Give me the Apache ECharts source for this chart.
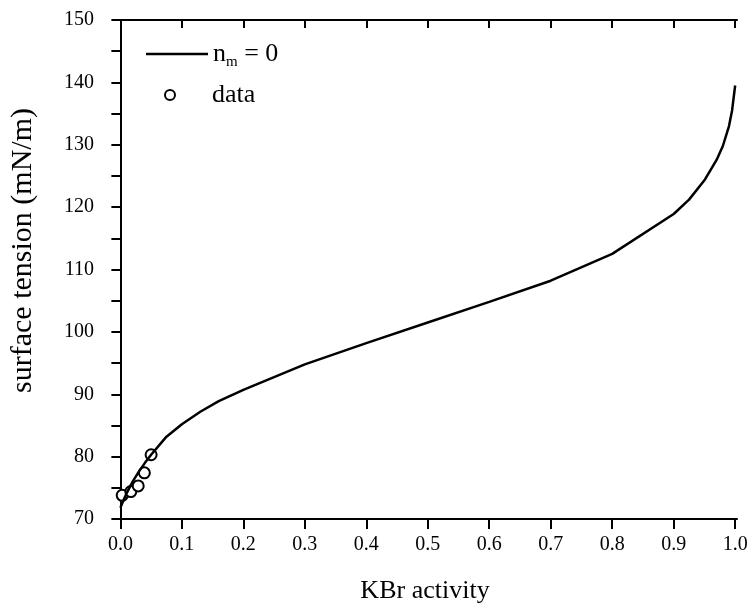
<!DOCTYPE html>
<html><head><meta charset="utf-8">
<script src="https://cdn.jsdelivr.net/npm/echarts@6/dist/echarts.min.js"></script>
<style>html,body{margin:0;padding:0;background:#fff}#c{width:751px;height:609px}</style>
</head><body><div id="c"></div>
<script>
var curveX = [0.0, 0.005, 0.01, 0.02, 0.03, 0.04, 0.05, 0.075, 0.1, 0.13, 0.16, 0.2, 0.3, 0.4, 0.5, 0.6, 0.7, 0.8, 0.9, 0.925, 0.95, 0.97, 0.98, 0.99, 0.995, 1.0];
var curveY = [71.8, 73.0, 74.1, 76.0, 77.6, 79.0, 80.3, 83.2, 85.2, 87.2, 88.9, 90.7, 94.8, 98.2, 101.5, 104.8, 108.2, 112.5, 118.9, 121.2, 124.3, 127.6, 129.8, 133.0, 135.5, 139.5];
var dataX = [0.003, 0.017, 0.029, 0.039, 0.050];
var dataY = [73.8, 74.4, 75.3, 77.4, 80.3];
var xTicks = [0, 0.1, 0.2, 0.3, 0.4, 0.5, 0.6, 0.7, 0.8, 0.9, 1.0];
var yTicks = [70, 80, 90, 100, 110, 120, 130, 140, 150];

var FONT = 'Liberation Serif';
var chart = echarts.init(document.getElementById('c'));
var axisLine = {show: true, lineStyle: {color: '#000', width: 2}};
chart.setOption({
  animation: false,
  backgroundColor: '#fff',
  grid: {left: 112, right: 14, top: 20, bottom: 83, containLabel: false},
  legend: [{
    left: 141, top: 36, orient: 'vertical',
    data: [{name: 'nm', icon: 'rect'}], itemWidth: 62, itemHeight: 2.5,
    formatter: function(){ return '{a|n}{b|m}{a| = 0}'; },
    textStyle: {fontFamily: FONT, color: '#000',
      rich: {a: {fontSize: 26, fontFamily: FONT, color: '#000'}, b: {fontSize: 15, fontFamily: FONT, color: '#000', padding: [16,0,0,0]}}}
  }, {
    left: 159, top: 77, orient: 'vertical',
    data: ['data'], itemWidth: 10, itemHeight: 10,
    itemStyle: {opacity: 1, borderWidth: 2, borderColor: '#000'},
    textStyle: {fontFamily: FONT, fontSize: 26, color: '#000', padding: [0,0,0,32]}
  }],
  xAxis: [{
    type: 'value', min: -0.012, max: 1.003, position: 'bottom',
    name: 'KBr activity', nameLocation: 'middle', nameGap: 59,
    nameTextStyle: {fontFamily: FONT, fontSize: 26, color: '#000'},
    axisLine: axisLine,
    axisTick: {show: true, inside: false, length: 10, lineStyle: {color: '#000', width: 2}, customValues: xTicks},
    axisLabel: {fontFamily: FONT, fontSize: 20, color: '#000', margin: 16, customValues: xTicks,
      formatter: function(v){ return v.toFixed(1); }},
    splitLine: {show: false}
  }, {
    type: 'value', min: -0.012, max: 1.003, position: 'top',
    axisLine: axisLine,
    axisTick: {show: true, inside: true, length: 8, lineStyle: {color: '#000', width: 2}, customValues: xTicks},
    axisLabel: {show: false}, splitLine: {show: false}
  }],
  yAxis: [{
    type: 'value', min: 70, max: 150, interval: 5, position: 'left',
    name: 'surface tension (mN/m)', nameLocation: 'middle', nameGap: 75,
    nameTextStyle: {fontFamily: FONT, fontSize: 30, color: '#000', padding: [0,0,0,38]},
    axisLine: axisLine,
    axisTick: {show: true, inside: false, length: 9, lineStyle: {color: '#000', width: 2}},
    axisLabel: {fontFamily: FONT, fontSize: 20, color: '#000', margin: 19,
      formatter: function(v){ return yTicks.indexOf(v) >= 0 ? String(v) : ''; }},
    splitLine: {show: false}
  }, {
    type: 'value', min: 70, max: 150, interval: 5, position: 'right',
    axisLine: axisLine,
    axisTick: {show: true, inside: true, length: 7, lineStyle: {color: '#000', width: 2}},
    axisLabel: {show: false}, splitLine: {show: false}
  }],
  series: [{
    name: 'nm', type: 'line', xAxisIndex: 0, yAxisIndex: 0,
    data: curveX.map(function(x, i){ return [x, curveY[i]]; }),
    showSymbol: false, symbol: 'none', smooth: false,
    lineStyle: {color: '#000', width: 2.5}, itemStyle: {color: '#000'}
  }, {
    name: 'data', type: 'scatter', xAxisIndex: 0, yAxisIndex: 0,
    data: dataX.map(function(x, i){ return [x, dataY[i]]; }),
    symbol: 'emptyCircle', symbolSize: 11,
    itemStyle: {color: '#000', borderColor: '#000', borderWidth: 2, opacity: 1}
  }]
});
</script></body></html>
